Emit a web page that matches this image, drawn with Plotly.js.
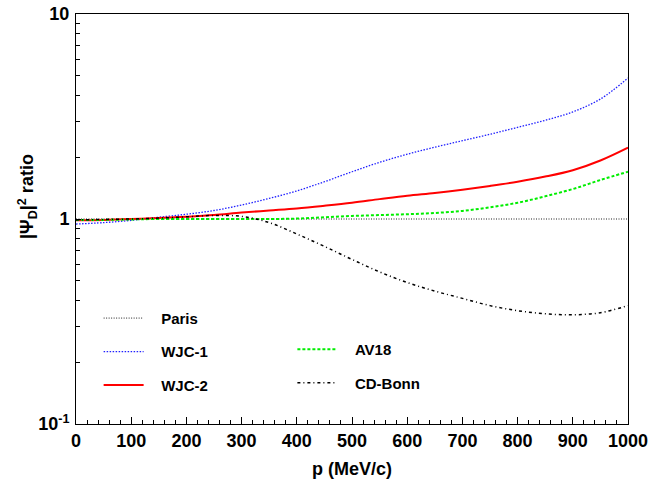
<!DOCTYPE html>
<html>
<head>
<meta charset="utf-8">
<script src="https://cdn.plot.ly/plotly-3.0.1.min.js"></script>
<style>html,body{margin:0;padding:0;background:#fff;}#chart{width:650px;height:483px;}</style>
</head>
<body>
<div id="chart"></div>
<script>
// momentum p (MeV/c)
const p = [0,50,100,150,200,250,300,350,400,450,500,550,600,650,700,750,800,850,900,950,1000];
// |Psi_D|^2 ratios
const paris  = [1,1,1,1,1,1,1,1,1,1,1,1,1,1,1,1,1,1,1,1,1];
const wjc1   = [0.945,0.96,0.985,1.02,1.055,1.10,1.17,1.26,1.37,1.52,1.70,1.89,2.07,2.24,2.41,2.59,2.80,3.03,3.33,3.85,4.87];
const wjc2   = [0.985,0.99,1.0,1.01,1.025,1.045,1.075,1.10,1.125,1.16,1.20,1.25,1.30,1.34,1.39,1.45,1.52,1.61,1.73,1.93,2.23];
const av18   = [0.99,0.99,0.995,1.0,1.0,1.0,1.0,1.0,1.005,1.02,1.035,1.045,1.055,1.07,1.095,1.14,1.20,1.29,1.40,1.55,1.70];
const cdbonn = [0.99,0.995,1.0,1.01,1.025,1.04,1.03,0.96,0.845,0.735,0.635,0.552,0.49,0.445,0.41,0.378,0.357,0.345,0.341,0.349,0.378];
const names  = ["Paris","WJC-1","WJC-2","AV18","CD-Bonn"];
const yMajorVals = [0.1,1,10];
const yMajorText = ["10<sup>-1</sup>","1","10"];
const yMinorVals = [0.2,0.3,0.4,0.5,0.6,0.7,0.8,0.9,2,3,4,5,6,7,8,9];
const xTickVals = [0,100,200,300,400,500,600,700,800,900,1000];
const yTitle = "|Ψ<sub>D</sub>|<sup>2</sup> ratio";

const F = "Liberation Sans, Arial, Helvetica, sans-serif";
const pad = "\u00a0\u00a0\u00a0";

const traces = [
  {x:p, y:paris,  name:pad+names[0], legend:"legend",  legendgroup:"a", line:{color:"#222", width:1, dash:"1px,1.5px"}},
  {x:p, y:wjc1,   name:pad+names[1], legend:"legend",  legendgroup:"b", line:{color:"#2020ff", width:1.3, dash:"1.5px,1.5px", shape:"spline"}},
  {x:p, y:wjc2,   name:pad+names[2], legend:"legend",  legendgroup:"c", line:{color:"#ff0000", width:2, shape:"spline"}},
  {x:p, y:av18,   name:pad+names[3], legend:"legend2", legendgroup:"d", line:{color:"#00ee00", width:2, dash:"3px,2px", shape:"spline"}},
  {x:p, y:cdbonn, name:pad+names[4], legend:"legend2", legendgroup:"e", line:{color:"#000", width:1.5, dash:"3px,3px,1px,3px", shape:"spline"}}
].map(t => Object.assign({type:"scatter", mode:"lines", hoverinfo:"skip"}, t));

const legendBase = {
  bgcolor:"rgba(0,0,0,0)", borderwidth:0, xanchor:"left", yanchor:"top",
  font:{family:F, size:15, weight:"bold", color:"#000"},
  itemwidth:40, tracegroupgap:11, traceorder:"grouped"
};

const layout = {
  width:650, height:483,
  margin:{l:76, r:22, t:14, b:59},
  paper_bgcolor:"#fff", plot_bgcolor:"#fff",
  showlegend:true,
  legend: Object.assign({}, legendBase, {x:0.041, y:0.298}),
  legend2: Object.assign({}, legendBase, {x:0.392, y:0.222}),
  xaxis:{
    range:[0,1000], showgrid:false, zeroline:false,
    showline:true, linecolor:"#000", linewidth:1, mirror:true,
    ticks:"inside", ticklen:7, tickwidth:1, tickcolor:"#000",
    tickmode:"array", tickvals:xTickVals,
    minor:{ticks:"inside", ticklen:4, dtick:20, tickcolor:"#000", showgrid:false},
    tickfont:{family:F, size:18, weight:"bold", color:"#000"},
    title:{text:"p (MeV/c)", font:{family:F, size:18, weight:"bold", color:"#000"}, standoff:12}
  },
  yaxis:{
    type:"log", range:[-1,1], showgrid:false, zeroline:false,
    showline:true, linecolor:"#000", linewidth:1, mirror:true,
    ticks:"inside", ticklen:5, tickwidth:1, tickcolor:"#000",
    tickmode:"array", tickvals:yMajorVals, ticktext:yMajorText, ticklabelstandoff:2,
    minor:{ticks:"inside", ticklen:4, tickmode:"array", tickvals:yMinorVals, tickcolor:"#000", showgrid:false},
    tickfont:{family:F, size:18, weight:"bold", color:"#000"}
  },
  annotations:[{
    text:yTitle, xref:"paper", yref:"paper", x:-0.089, y:0.556,
    xanchor:"center", yanchor:"middle", textangle:-90, showarrow:false,
    font:{family:F, size:18, weight:"bold", color:"#000"}
  }]
};

Plotly.newPlot("chart", traces, layout, {staticPlot:true, displayModeBar:false});
</script>
</body>
</html>
